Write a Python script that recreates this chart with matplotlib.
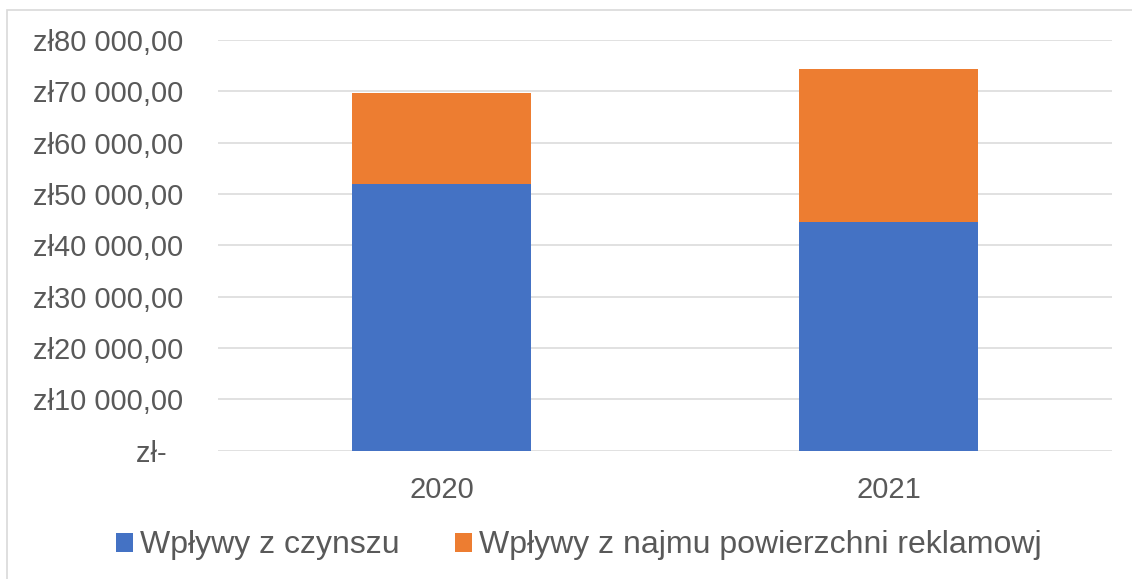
import matplotlib
matplotlib.use("Agg")
import matplotlib.pyplot as plt
import numpy as np
from matplotlib.patches import Rectangle
from matplotlib.ticker import FuncFormatter

years = ["2020", "2021"]
czynsz = [51900, 44500]          # Wpływy z czynszu
reklama = [17700, 29850]         # Wpływy z najmu powierzchni reklamowj
series_names = ["Wpływy z czynszu", "Wpływy z najmu powierzchni reklamowj"]
y_ticks = np.arange(0, 80001, 10000)

BLUE = "#4472C4"
ORANGE = "#ED7D31"
GREY_TXT = "#595959"
GRID = "#D9D9D9"

plt.rcParams["font.family"] = ["Liberation Sans", "DejaVu Sans"]

fig = plt.figure(figsize=(11.32, 5.79), dpi=100)
ax = fig.add_axes([0.1926, 0.2216, 0.9823 - 0.1926, 0.9309 - 0.2216])

x = np.arange(len(years))
ax.bar(x, czynsz, width=0.4, color=BLUE, label=series_names[0], zorder=3)
ax.bar(x, reklama, width=0.4, bottom=czynsz, color=ORANGE,
       label=series_names[1], zorder=3)

ax.set_xlim(-0.5, 1.5)
ax.set_ylim(0, 80000)
ax.set_yticks(y_ticks)


def pln(v, pos):
    if v == 0:
        return "zł-  "
    s = f"{v:,.2f}".replace(",", " ").replace(".", ",")
    return "zł" + s


ax.yaxis.set_major_formatter(FuncFormatter(pln))
ax.set_xticks(x)
ax.set_xticklabels(years)

ax.tick_params(axis="y", length=0, pad=25, labelsize=21, labelcolor=GREY_TXT)
ax.tick_params(axis="x", length=0, pad=18, labelsize=21, labelcolor=GREY_TXT)

ax.grid(axis="y", color=GRID, linewidth=1.1, zorder=0)
for s in ax.spines.values():
    s.set_visible(False)

leg = fig.legend(loc="center", bbox_to_anchor=(0.5115, 0.058), ncol=2,
                 frameon=False, fontsize=23, handlelength=0.53, handleheight=0.53,
                 handletextpad=0.22, columnspacing=1.75, labelcolor=GREY_TXT)

# outer chart frame
fig.patches.append(Rectangle((7 / 1132, -0.01), 1.0, 1 - 10 / 579 + 0.01,
                             transform=fig.transFigure, fill=False,
                             edgecolor=GRID, linewidth=1.2))

fig.savefig("out.png", dpi=100)
